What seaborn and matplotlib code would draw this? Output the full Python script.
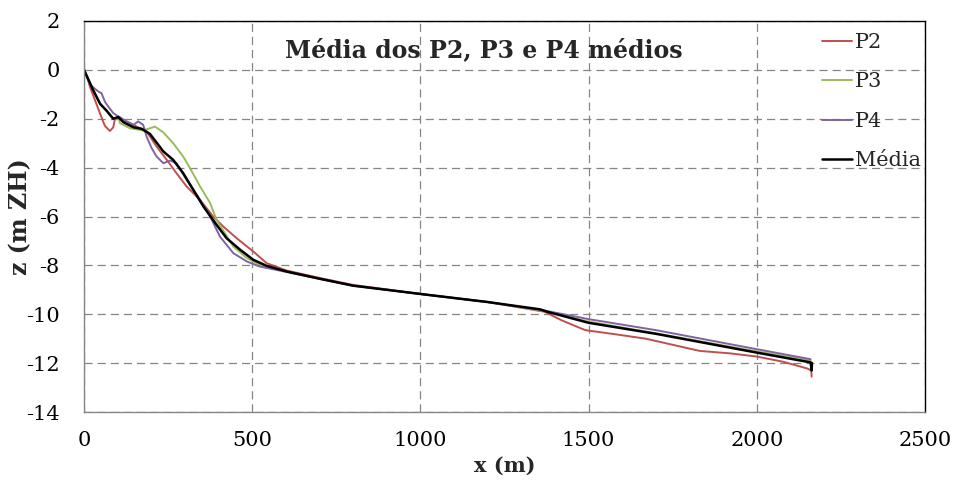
import numpy as np
import pandas as pd
import matplotlib
matplotlib.use("Agg")
import matplotlib.pyplot as plt
import seaborn as sns

# Profile P2
p2_x = [0, 10, 18, 33, 48, 62, 77, 87, 92, 102, 117, 140, 166, 186, 216, 246, 275, 305,
        345, 384, 414, 454, 503, 543, 602, 702, 800, 1000, 1200, 1370, 1420, 1490, 1580,
        1670, 1750, 1830, 1920, 2000, 2080, 2150, 2162, 2163]
p2_z = [0, -0.3, -0.71, -1.25, -1.8, -2.29, -2.5, -2.35, -2.0, -1.9, -2.05, -2.2, -2.39,
        -2.52, -3.14, -3.68, -4.23, -4.77, -5.32, -6.0, -6.41, -6.89, -7.43, -7.91, -8.21,
        -8.52, -8.8, -9.17, -9.5, -9.9, -10.25, -10.65, -10.82, -11.0, -11.25, -11.5,
        -11.6, -11.73, -11.95, -12.22, -12.3, -12.55]

# Profile P3
p3_x = [0, 28, 48, 67, 87, 102, 107, 137, 176, 196, 211, 236, 265, 295, 315, 345, 375,
        394, 444, 484, 523, 602, 702, 800, 1000, 1200, 1370, 1500, 1700, 2000, 2160, 2163]
p3_z = [0, -0.85, -1.39, -1.67, -2.0, -1.95, -2.18, -2.39, -2.48, -2.39, -2.32, -2.56,
        -3.0, -3.55, -4.02, -4.77, -5.45, -6.14, -7.23, -7.7, -7.98, -8.25, -8.55, -8.83,
        -9.17, -9.5, -9.87, -10.3, -10.78, -11.52, -11.9, -12.0]

# Profile P4
p4_x = [0, 18, 43, 52, 62, 72, 87, 102, 127, 147, 161, 176, 186, 201, 216, 236, 256, 275,
        305, 345, 375, 404, 444, 484, 523, 602, 702, 800, 1000, 1200, 1370, 1500, 1700,
        2000, 2160]
p4_z = [0, -0.61, -0.89, -0.95, -1.3, -1.5, -1.77, -1.91, -2.11, -2.25, -2.11, -2.25,
        -2.73, -3.2, -3.55, -3.82, -3.71, -3.82, -4.5, -5.32, -6.0, -6.82, -7.5, -7.84,
        -8.05, -8.27, -8.56, -8.83, -9.17, -9.5, -9.85, -10.2, -10.65, -11.43, -11.84]

# Mean profile
media_x = [0, 28, 48, 67, 87, 102, 117, 147, 171, 196, 226, 236, 265, 295, 325, 355, 394,
           424, 464, 503, 543, 602, 702, 800, 1000, 1200, 1356, 1375, 1500, 1700, 2000,
           2160, 2163, 2164]
media_z = [0, -0.85, -1.39, -1.67, -2.0, -1.93, -2.14, -2.35, -2.41, -2.62, -3.16, -3.34,
           -3.68, -4.23, -4.91, -5.59, -6.34, -6.89, -7.36, -7.77, -8.02, -8.25, -8.55,
           -8.83, -9.17, -9.5, -9.8, -9.89, -10.35, -10.8, -11.57, -11.97, -12.3, -12.0]

series = ["P2", "P3", "P4", "Média"]
colors = {"P2": "#C0504D", "P3": "#9BBB59", "P4": "#8064A2", "Média": "#000000"}
widths = {"P2": 1.4, "P3": 1.4, "P4": 1.4, "Média": 1.8}

xticks = [0, 500, 1000, 1500, 2000, 2500]
yticks = [2, 0, -2, -4, -6, -8, -10, -12, -14]

frames = []
for name, xs, zs in [("P2", p2_x, p2_z), ("P3", p3_x, p3_z),
                     ("P4", p4_x, p4_z), ("Média", media_x, media_z)]:
    frames.append(pd.DataFrame({"x": xs, "z": zs, "perfil": name,
                                "ordem": np.arange(len(xs))}))
df = pd.concat(frames, ignore_index=True)

sns.set_theme(style="white")
plt.rcParams["font.family"] = ["DejaVu Serif"]
plt.rcParams["axes.unicode_minus"] = False

fig = plt.figure(figsize=(9.55, 4.82), dpi=100)
ax = fig.add_axes([84 / 955, 1 - 412 / 482, (925 - 84) / 955, (412 - 21) / 482])

grid_col = "#868686"
ax.set_xlim(0, 2500)
ax.set_ylim(-14, 2)
ax.set_xticks(xticks)
ax.set_yticks(yticks)
ax.grid(True, color=grid_col, linestyle=(0, (6.5, 4)), linewidth=0.9)
ax.set_axisbelow(True)

for name in series:
    sub = df[df["perfil"] == name]
    sns.lineplot(data=sub, x="x", y="z", sort=False, estimator=None, ax=ax,
                 color=colors[name], linewidth=widths[name], label=name)

ax.tick_params(axis="both", direction="inout", length=11, width=0.9, color=grid_col,
               labelsize=15, labelcolor="black")
ax.tick_params(axis="y", pad=12)
ax.tick_params(axis="x", pad=8)
for side in ["left", "bottom"]:
    ax.spines[side].set_color(grid_col)
    ax.spines[side].set_linewidth(1.0)
for side in ["top", "right"]:
    ax.spines[side].set_color("black")
    ax.spines[side].set_linewidth(1.0)

ax.set_xlabel("x (m)", fontsize=15, fontweight="bold", labelpad=4)
ax.set_ylabel("z (m ZH)", fontsize=17, fontweight="bold")
ax.yaxis.set_label_coords(-0.061, 0.5)

ax.text(0.475, 0.925, "Média dos P2, P3 e P4 médios", transform=ax.transAxes,
        ha="center", va="center", fontsize=17, fontweight="bold")

leg = ax.legend(loc="upper left", bbox_to_anchor=(822 / 955, 1 - 33 / 482),
                bbox_transform=fig.transFigure, frameon=False, fontsize=15,
                handlelength=1.45, handletextpad=0.15, labelspacing=0.98,
                borderpad=0, borderaxespad=0)

fig.savefig("out.png", dpi=100)
